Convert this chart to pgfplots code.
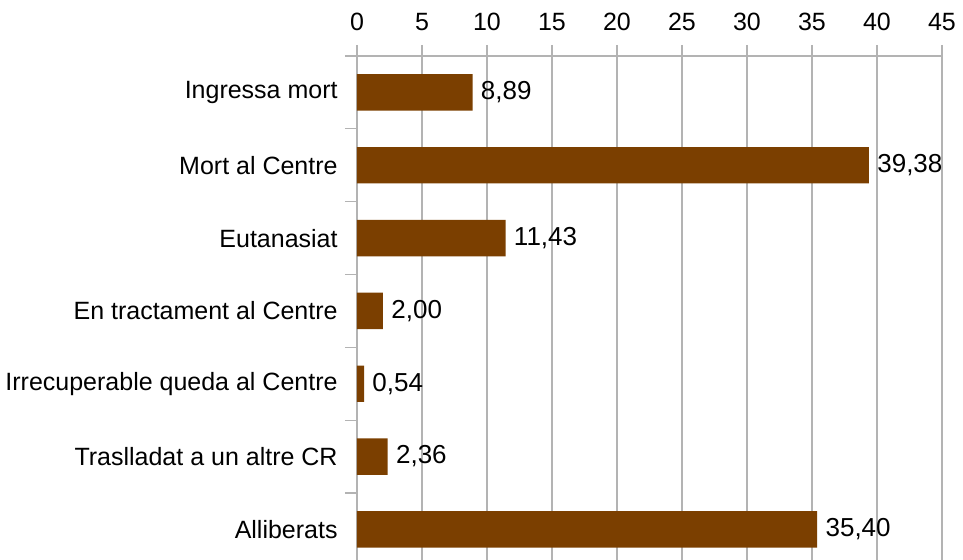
\documentclass[border=0pt]{standalone}
\usepackage{fontspec}
\setmainfont{Liberation Sans}
\usepackage{pgfplots}
\pgfplotsset{compat=1.18}
\definecolor{barbrown}{HTML}{7B3F00}
\definecolor{gridgray}{HTML}{B3B3B3}

\begin{document}
\begin{tikzpicture}[font=\fontsize{12.5pt}{14pt}\selectfont]
\begin{axis}[
  scale only axis,
  width=292.5pt, height=252pt,
  xbar, bar width=0.5,
  y dir=reverse,
  xmin=0, xmax=45, ymin=-0.5, ymax=6.42,
  xtick={0,5,...,45},
  ytick={0,...,6},
  yticklabels={Ingressa mort, Mort al Centre, Eutanasiat, En tractament al Centre,
    Irrecuperable queda al Centre, Traslladat a un altre CR, Alliberats},
  minor ytick={-0.5,0.5,1.5,2.5,3.5,4.5,5.5},
  axis x line*=top, axis y line*=left,
  axis line style={gridgray, line width=0.6pt},
  xmajorgrids, grid style={gridgray, line width=0.6pt},
  tick align=outside,
  every tick/.style={gridgray, line width=0.6pt},
  major tick length=5.5pt, minor tick length=6pt,
  major y tick style={draw=none},
  yticklabel style={anchor=east, inner sep=0pt, xshift=-4pt},
  xticklabel style={anchor=south, inner sep=0pt, yshift=7pt},
  /pgf/number format/assume math mode=true,
  nodes near coords,
  nodes near coords align={horizontal},
  every node near coord/.append style={black, inner sep=0pt, xshift=4pt,
    font=\fontsize{13pt}{15pt}\selectfont,
    /pgf/number format/.cd, fixed, fixed zerofill, precision=2, use comma, assume math mode=true},
]
\addplot[fill=barbrown, draw=none] coordinates {
  (8.89,0) (39.38,1) (11.43,2) (2.00,3) (0.54,4) (2.36,5) (35.40,6)};
\coordinate (o) at (rel axis cs:0,0);
\end{axis}
\pgfresetboundingbox
\path (o) ++(-178.5pt,0) rectangle ++(481.5pt,280pt);
\end{tikzpicture}
\end{document}
